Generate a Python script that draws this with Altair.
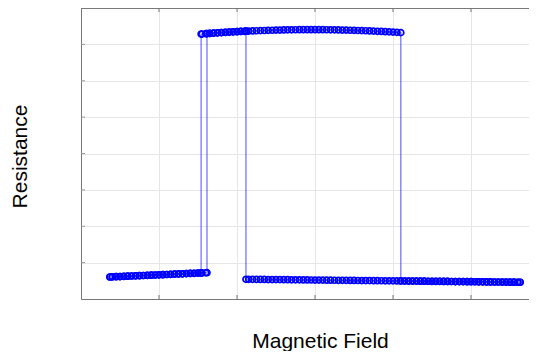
import altair as alt
import pandas as pd

# Low-resistance branch, negative-field side
ll_field = [-2.63, -2.60, -2.55, -2.50, -2.45, -2.40, -2.35, -2.30, -2.25, -2.20,
            -2.15, -2.10, -2.05, -2.00, -1.95, -1.90, -1.85, -1.80, -1.75, -1.70,
            -1.65, -1.60, -1.55, -1.50, -1.46, -1.45, -1.40, -1.385]
ll_res = [0.605, 0.608, 0.613, 0.617, 0.622, 0.627, 0.632, 0.636, 0.641, 0.646,
          0.651, 0.655, 0.660, 0.665, 0.669, 0.674, 0.679, 0.684, 0.688, 0.693,
          0.698, 0.703, 0.707, 0.712, 0.716, 0.717, 0.722, 0.723]

# High-resistance branch
hi_field = [-1.46, -1.45, -1.40, -1.385, -1.35, -1.30, -1.25, -1.20, -1.15, -1.10,
            -1.05, -1.00, -0.95, -0.90, -0.885, -0.85, -0.80, -0.75, -0.70, -0.65,
            -0.60, -0.55, -0.50, -0.45, -0.40, -0.35, -0.30, -0.25, -0.20, -0.15,
            -0.10, -0.05, 0.00, 0.05, 0.10, 0.15, 0.20, 0.25, 0.30, 0.35,
            0.40, 0.45, 0.50, 0.55, 0.60, 0.65, 0.70, 0.75, 0.80, 0.85,
            0.90, 0.95, 1.00, 1.05, 1.10]
hi_res = [7.283, 7.284, 7.293, 7.295, 7.301, 7.309, 7.316, 7.323, 7.330, 7.337,
          7.343, 7.349, 7.355, 7.360, 7.362, 7.365, 7.370, 7.374, 7.378, 7.382,
          7.386, 7.389, 7.392, 7.394, 7.397, 7.399, 7.400, 7.402, 7.403, 7.403,
          7.404, 7.404, 7.404, 7.403, 7.403, 7.402, 7.400, 7.399, 7.397, 7.394,
          7.392, 7.389, 7.386, 7.382, 7.378, 7.374, 7.370, 7.365, 7.360, 7.355,
          7.349, 7.343, 7.337, 7.330, 7.323]

# Low-resistance branch, positive-field side
lr_field = [-0.885, -0.85, -0.80, -0.75, -0.70, -0.65, -0.60, -0.55, -0.50, -0.45,
            -0.40, -0.35, -0.30, -0.25, -0.20, -0.15, -0.10, -0.05, 0.00, 0.05,
            0.10, 0.15, 0.20, 0.25, 0.30, 0.35, 0.40, 0.45, 0.50, 0.55,
            0.60, 0.65, 0.70, 0.75, 0.80, 0.85, 0.90, 0.95, 1.00, 1.05,
            1.10, 1.15, 1.20, 1.25, 1.30, 1.35, 1.40, 1.45, 1.50, 1.55,
            1.60, 1.65, 1.70, 1.75, 1.80, 1.85, 1.90, 1.95, 2.00, 2.05,
            2.10, 2.15, 2.20, 2.25, 2.30, 2.35, 2.40, 2.45, 2.50, 2.55,
            2.60, 2.63]
lr_res = [0.542, 0.541, 0.540, 0.539, 0.538, 0.537, 0.535, 0.534, 0.533, 0.532,
          0.531, 0.530, 0.528, 0.527, 0.526, 0.525, 0.524, 0.523, 0.521, 0.520,
          0.519, 0.518, 0.517, 0.516, 0.514, 0.513, 0.512, 0.511, 0.510, 0.509,
          0.507, 0.506, 0.505, 0.504, 0.503, 0.502, 0.500, 0.499, 0.498, 0.497,
          0.496, 0.495, 0.493, 0.492, 0.491, 0.490, 0.489, 0.488, 0.486, 0.485,
          0.484, 0.483, 0.482, 0.481, 0.479, 0.478, 0.477, 0.476, 0.475, 0.474,
          0.472, 0.471, 0.470, 0.469, 0.468, 0.467, 0.465, 0.464, 0.463, 0.462,
          0.461, 0.460]

# switching fields of the two sweeps
fwd_up, fwd_down = -1.385, 1.10
rev_up, rev_down = -0.885, -1.46

x_grid = [-2, -1, 0, 1, 2]
y_grid = [1, 2, 3, 4, 5, 6, 7, 8]

LL = list(zip(ll_field, ll_res))
HI = list(zip(hi_field, hi_res))
LR = list(zip(lr_field, lr_res))

forward = ([p for p in LL if p[0] <= fwd_up] +
           [p for p in HI if p[0] >= fwd_up] +
           [p for p in LR if p[0] >= fwd_down])
reverse = (list(reversed(LR)) +
           [p for p in reversed(HI) if p[0] <= rev_up] +
           [p for p in reversed(LL) if p[0] <= rev_down])
seq = forward + reverse
df = pd.DataFrame({"field": [p[0] for p in seq],
                   "res": [p[1] for p in seq],
                   "step": list(range(len(seq)))})

W, H = 448, 291
xs = alt.Scale(domain=[-3, -3 + W / 78], nice=False, zero=False)
ys = alt.Scale(domain=[0, 8], nice=False, zero=False)

x_axis = alt.Axis(values=x_grid, labels=False, ticks=False, grid=True,
                  title="Magnetic Field", titleX=239, titleY=48,
                  titleAlign="center", titleBaseline="alphabetic")
y_axis = alt.Axis(values=y_grid, labels=False, ticks=False, grid=True,
                  title="Resistance", titleX=-55, titleY=148, titleAngle=270,
                  titleAlign="center", titleBaseline="alphabetic")

base = alt.Chart(df)
line = base.mark_line(color="#0000ff", opacity=0.5, strokeWidth=1.4).encode(
    x=alt.X("field:Q", scale=xs, axis=x_axis),
    y=alt.Y("res:Q", scale=ys, axis=y_axis),
    order="step:Q",
)
pts = base.mark_point(shape="circle", filled=False, size=36, color="#0000ff",
                      strokeWidth=1.7, opacity=1).encode(
    x=alt.X("field:Q", scale=xs, axis=x_axis),
    y=alt.Y("res:Q", scale=ys, axis=y_axis),
)

xt = pd.DataFrame({"t": x_grid})
yt = pd.DataFrame({"t": y_grid[:-1]})
bottom_ticks = alt.Chart(xt).mark_rule(color="#777").encode(
    x=alt.X("t:Q", scale=xs, axis=x_axis), y=alt.value(H), y2=alt.value(H - 4))
top_ticks = alt.Chart(xt).mark_rule(color="#777").encode(
    x=alt.X("t:Q", scale=xs, axis=x_axis), y=alt.value(0), y2=alt.value(4))
left_ticks = alt.Chart(yt).mark_rule(color="#999").encode(
    y=alt.Y("t:Q", scale=ys, axis=y_axis), x=alt.value(0), x2=alt.value(4))
top_border = alt.Chart(xt).mark_rule(color="#777").encode(
    x=alt.value(0), x2=alt.value(W), y=alt.value(0))

chart = alt.layer(line, pts, bottom_ticks, top_ticks, left_ticks, top_border).properties(
    width=W, height=H,
    padding={"left": 73, "top": 0, "right": 0, "bottom": 52},
    autosize=alt.AutoSizeParams(type="none"),
).configure_view(stroke=None).configure_axis(
    domainColor="#777", gridColor="#e6e6e6", domainWidth=1,
    titleFont="Liberation Sans", titleFontSize=21, titleFontWeight="normal",
    titleColor="#000",
)

chart.save("out.html", embed_options={"renderer": "svg", "actions": False})
